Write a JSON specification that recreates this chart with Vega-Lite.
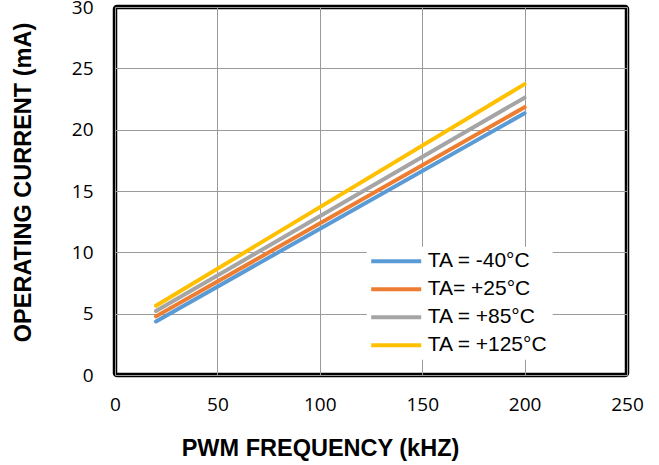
{
  "$schema": "https://vega.github.io/schema/vega-lite/v6.json",
  "width": 512,
  "height": 368,
  "autosize": {"type": "none"},
  "padding": {"left": 115, "top": 7, "right": 32, "bottom": 90},
  "background": "white",
  "config": {
    "view": {"stroke": "black", "strokeWidth": 4.5, "cornerRadius": 2},
    "axis": {
      "domain": false,
      "ticks": false,
      "grid": true,
      "gridColor": "#9a9a9a",
      "gridWidth": 1,
      "labelFont": "Open Sans",
      "labelFontSize": 19,
      "labelColor": "black",
      "labelFlush": false,
      "titleFont": "Liberation Sans",
      "titleFontSize": 23.5,
      "titleFontWeight": "bold",
      "titleColor": "black"
    }
  },
  "data": {
    "values": [
      {"temp": "TA = -40°C", "freq": 20, "current": 4.37},
      {"temp": "TA = -40°C", "freq": 200, "current": 21.34},
      {"temp": "TA= +25°C", "freq": 20, "current": 4.78},
      {"temp": "TA= +25°C", "freq": 200, "current": 21.83},
      {"temp": "TA = +85°C", "freq": 20, "current": 5.21},
      {"temp": "TA = +85°C", "freq": 200, "current": 22.61},
      {"temp": "TA = +125°C", "freq": 20, "current": 5.65},
      {"temp": "TA = +125°C", "freq": 200, "current": 23.71}
    ]
  },
  "mark": {"type": "line", "strokeWidth": 4, "strokeCap": "round"},
  "encoding": {
    "x": {
      "field": "freq",
      "type": "quantitative",
      "scale": {"domain": [0, 250], "nice": false},
      "axis": {
        "values": [0, 50, 100, 150, 200, 250],
        "title": "PWM FREQUENCY (kHZ)",
        "labelPadding": 20,
        "titleX": 205,
        "titleY": 73,
        "titleBaseline": "middle"
      }
    },
    "y": {
      "field": "current",
      "type": "quantitative",
      "scale": {"domain": [0, 30], "nice": false},
      "axis": {
        "values": [0, 5, 10, 15, 20, 25, 30],
        "title": "OPERATING CURRENT (mA)",
        "labelPadding": 22,
        "titleX": -92,
        "titleY": 175,
        "titleAngle": 270,
        "titleAlign": "center",
        "titleBaseline": "middle"
      }
    },
    "color": {
      "field": "temp",
      "type": "nominal",
      "scale": {
        "domain": ["TA = -40°C", "TA= +25°C", "TA = +85°C", "TA = +125°C"],
        "range": ["#5B9BD5", "#ED7D31", "#A5A5A5", "#FFC000"]
      },
      "legend": {
        "title": null,
        "orient": "none",
        "legendX": 251.7,
        "legendY": 239.7,
        "padding": 4,
        "fillColor": "white",
        "symbolType": "M-5,0H5",
        "symbolSize": 100,
        "symbolStrokeWidth": 4,
        "symbolOffset": 15,
        "labelOffset": 21,
        "labelFont": "Liberation Sans",
        "labelFontSize": 21,
        "labelColor": "black",
        "rowPadding": 6
      }
    }
  }
}
